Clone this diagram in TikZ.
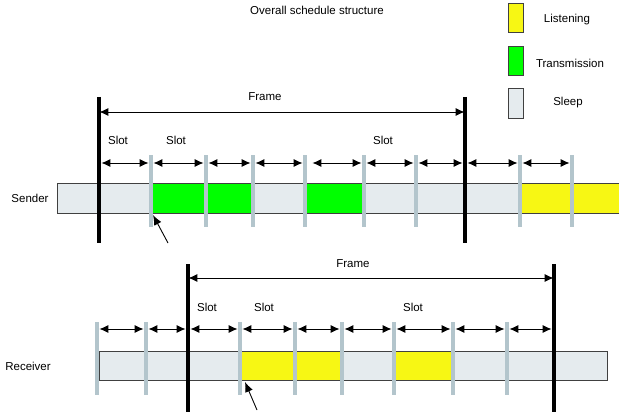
\documentclass[tikz,border=0pt]{standalone}
\usepackage{fontspec}
\setmainfont{Liberation Sans}
\usetikzlibrary{arrows.meta}
\definecolor{sleepc}{HTML}{E5EBEE}
\definecolor{sepc}{HTML}{B3C5CC}
\definecolor{greenc}{HTML}{00FF00}
\definecolor{yellowc}{HTML}{F7F714}
\definecolor{edgec}{HTML}{404040}
\tikzset{
  blk/.style={draw=edgec, line width=0.8pt},
  sleepblk/.style={blk, fill=sleepc},
  greenblk/.style={blk, fill=greenc},
  yellowblk/.style={blk, fill=yellowc},
  sepline/.style={draw=sepc, line width=4.5pt},
  framebar/.style={draw=black, line width=4pt},
  darr/.style={{Latex[length=9pt,width=8pt]}-{Latex[length=9pt,width=8pt]}, line width=0.9pt, shorten <=2.4pt, shorten >=2.4pt},
  ptr/.style={-{Latex[length=10pt,width=8pt]}, line width=0.9pt},
  lbl/.style={font=\fontsize{11.5}{13}\selectfont, inner sep=0pt}
}
\begin{document}
\begin{tikzpicture}[x=1pt,y=-1pt]
\useasboundingbox (0,0) rectangle (619,412);

% title and legend
\node[lbl] (title) at (317,10) {Overall schedule structure};
\draw[yellowblk] (508,3) rectangle (523,32);
\draw[greenblk] (508,46) rectangle (523,75);
\draw[sleepblk] (508,88) rectangle (523,118);
\node[lbl] (lgl) at (567,20) {Listening};
\node[lbl] (lgt) at (570,63) {Transmission};
\node[lbl] (lgs) at (568,103) {Sleep};

% ---------------- Sender ----------------
\node[lbl] (sender) at (30,198) {Sender};
\draw[sleepblk] (57,183) rectangle (99,213);
\draw[sleepblk] (99,183) rectangle (151,213);
\draw[greenblk] (151,183) rectangle (253,213);
\draw[sleepblk] (253,183) rectangle (305,213);
\draw[greenblk] (305,183) rectangle (364,213);
\draw[sleepblk] (364,183) rectangle (414,213);
\draw[sleepblk] (414,183) rectangle (465,213);
\draw[sleepblk] (465,183) rectangle (519,213);
\draw[yellowblk] (519,183) rectangle (625,213);

\foreach \x in {151,206,253,305,364,416,520,572}
  \draw[sepline] (\x,155) -- (\x,227);

\draw[framebar] (99,97) -- (99,243);
\draw[framebar] (465,97) -- (465,243);

\draw[darr] (97,112) -- (467,112);
\node[lbl] (sframe) at (265,97) {Frame};

\foreach \i/\x in {0/99,1/151,2/206,3/253,4/305,5/364,6/416,7/465,8/520,9/572}
  \coordinate (s\i) at (\x,163);
\coordinate (s4b) at (310,163);
\draw[darr] (s0) -- (s1);
\draw[darr] (s1) -- (s2);
\draw[darr] (s2) -- (s3);
\draw[darr] (s3) -- (s4);
\draw[darr] (s4b) -- (s5);
\draw[darr] (s5) -- (s6);
\draw[darr] (s6) -- (s7);
\draw[darr] (s7) -- (s8);
\draw[darr] (s8) -- (s9);

\node[lbl] (sslot1) at (118,140) {Slot};
\node[lbl] (sslot2) at (176,140) {Slot};
\node[lbl] (sslot3) at (383,140) {Slot};

\coordinate (sptrA) at (168,243);
\coordinate (sptrB) at (153,215);
\draw[ptr] (sptrA) -- (sptrB);

% ---------------- Receiver ----------------
\node[lbl] (receiver) at (28,366) {Receiver};
\draw[sleepblk] (99,351) rectangle (188,380);
\draw[sleepblk] (188,351) rectangle (240,380);
\draw[yellowblk] (240,351) rectangle (342,380);
\draw[sleepblk] (342,351) rectangle (394,380);
\draw[yellowblk] (394,351) rectangle (453,380);
\draw[sleepblk] (453,351) rectangle (505,380);
\draw[sleepblk] (505,351) rectangle (607,380);

\foreach \x in {97,146,240,295,342,394,453,507}
  \draw[sepline] (\x,322) -- (\x,395);

\draw[framebar] (188,264) -- (188,412);
\draw[framebar] (554,264) -- (554,412);

\draw[darr] (186,278) -- (556,278);
\node[lbl] (rframe) at (353,264) {Frame};

\foreach \i/\x in {0/97,1/146,2/188,3/240,4/295,5/342,6/394,7/453,8/507,9/554}
  \coordinate (r\i) at (\x,329);
\draw[darr] (r0) -- (r1);
\draw[darr] (r1) -- (r2);
\draw[darr] (r2) -- (r3);
\draw[darr] (r3) -- (r4);
\draw[darr] (r4) -- (r5);
\draw[darr] (r5) -- (r6);
\draw[darr] (r6) -- (r7);
\draw[darr] (r7) -- (r8);
\draw[darr] (r8) -- (r9);

\node[lbl] (rslot1) at (207,307) {Slot};
\node[lbl] (rslot2) at (264,307) {Slot};
\node[lbl] (rslot3) at (413,307) {Slot};

\coordinate (rptrA) at (257,410);
\coordinate (rptrB) at (245,382);
\draw[ptr] (rptrA) -- (rptrB);
\end{tikzpicture}
\end{document}
